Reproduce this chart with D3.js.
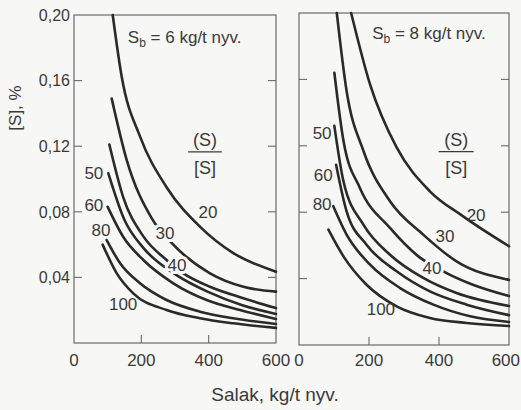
<!DOCTYPE html>
<html><head><meta charset="utf-8">
<script src="https://cdn.jsdelivr.net/npm/d3@7"></script>
<style>body{margin:0;background:#f7f7f5}svg{display:block}</style>
</head><body><svg id="c" width="521" height="410"></svg>
<script>
// ---- data ----
const xTicks = [0, 200, 400, 600];
const xTickLabels = ["0", "200", "400", "600"];
const yTicks = [0.04, 0.08, 0.12, 0.16, 0.20];
const yTickLabels = ["0,04", "0,08", "0,12", "0,16", "0,20"];
const ratios = [20, 30, 40, 50, 60, 80, 100];
const panelTitles = ["6", "8"];
const xTitle = "Salak, kg/t nyv.";
const yTitle = "[S], %";

// Sb = 6 kg/t : [salak, [S]]
const sb6_20  = [[115,0.200],[142,0.162],[196,0.126],[275,0.095],[374,0.071],[472,0.055],[600,0.0435]];
const sb6_30  = [[112,0.149],[156,0.112],[231,0.076],[290,0.061],[404,0.0425],[503,0.0343],[600,0.0313]];
const sb6_40  = [[105,0.121],[146,0.089],[206,0.065],[275,0.0506],[325,0.0425],[404,0.0343],[503,0.0273],[600,0.0213]];
const sb6_50  = [[102,0.1035],[150,0.075],[206,0.058],[300,0.042],[400,0.031],[500,0.023],[600,0.0177]];
const sb6_60  = [[100,0.083],[146,0.0648],[206,0.0506],[295,0.0364],[394,0.0262],[493,0.0201],[600,0.0146]];
const sb6_80  = [[97,0.0628],[137,0.0486],[196,0.0364],[275,0.0262],[374,0.0191],[473,0.0151],[600,0.0116]];
const sb6_100 = [[85,0.060],[127,0.0425],[176,0.0303],[275,0.0201],[374,0.0151],[473,0.012],[600,0.0092]];

// Sb = 8 kg/t
const sb8_20  = [[149,0.200],[203,0.157],[279,0.119],[374,0.0926],[469,0.0775],[600,0.0595]];
const sb8_30  = [[108,0.200],[136,0.153],[184,0.117],[260,0.0866],[355,0.0665],[450,0.0504],[600,0.0392]];
const sb8_40  = [[101,0.164],[127,0.123],[174,0.0946],[260,0.0705],[341,0.0534],[412,0.0444],[497,0.0363],[600,0.0295]];
const sb8_50  = [[101,0.132],[127,0.0986],[184,0.0725],[260,0.0544],[355,0.0404],[450,0.0313],[600,0.0235]];
const sb8_60  = [[106,0.1086],[136,0.0805],[193,0.0604],[279,0.0444],[374,0.0323],[479,0.0243],[600,0.018]];
const sb8_80  = [[98,0.0836],[136,0.0665],[203,0.0484],[289,0.0343],[384,0.0243],[489,0.0173],[600,0.0139]];
const sb8_100 = [[84,0.0695],[127,0.0534],[193,0.0363],[279,0.0233],[374,0.0163],[479,0.0133],[600,0.0114]];

const sb6 = [sb6_20, sb6_30, sb6_40, sb6_50, sb6_60, sb6_80, sb6_100];
const sb8 = [sb8_20, sb8_30, sb8_40, sb8_50, sb8_60, sb8_80, sb8_100];

// ---- layout ----
const panels = [
  { curves: sb6, title: panelTitles[0], xr: [74, 276], yr: [343, 15], yLabels: true,
    lab: [[398,0.0799,false],[270,0.0671,true],[306,0.0476,true],[59,0.1037,false],[59,0.0841,false],[80,0.0689,false],[146,0.0238,false]],
    frac: 389, titleAt: [160, 0.183] },
  { curves: sb8, title: panelTitles[1], xr: [299, 509], yr: [345, 13], yLabels: false,
    lab: [[506,0.0783,false],[417,0.0657,false],[380,0.0464,true],[66,0.1277,false],[69,0.1024,false],[66,0.0849,false],[234,0.0217,false]],
    frac: 449, titleAt: [209, 0.1843] }
];

const W = 521;
const svg = d3.select("#c");
const bg = "#f7f7f5";
const ink = "#2a2a2a";
const txt = "#3a3a3a";
const font = "'Liberation Sans', Arial, sans-serif";

panels.forEach(p => {
  const x = d3.scaleLinear().domain([0, 600]).range(p.xr);
  const y = d3.scaleLinear().domain([0, 0.20]).range(p.yr);
  const g = svg.append("g");

  // frame
  g.append("rect").attr("x", p.xr[0]).attr("y", p.yr[1])
    .attr("width", p.xr[1] - p.xr[0]).attr("height", p.yr[0] - p.yr[1])
    .attr("fill", "none").attr("stroke", "#6a6a6a").attr("stroke-width", 1.2);

  // ticks inward
  const tk = 8;
  yTicks.slice(0, 4).forEach(t => {
    g.append("line").attr("x1", x(0)).attr("x2", x(0) + tk).attr("y1", y(t)).attr("y2", y(t))
      .attr("stroke", "#6a6a6a").attr("stroke-width", 1.1);
    g.append("line").attr("x1", x(600)).attr("x2", x(600) - tk).attr("y1", y(t)).attr("y2", y(t))
      .attr("stroke", "#6a6a6a").attr("stroke-width", 1.1);
  });
  xTicks.slice(1, 3).forEach(t => {
    g.append("line").attr("x1", x(t)).attr("x2", x(t)).attr("y1", y(0)).attr("y2", y(0) - tk)
      .attr("stroke", "#6a6a6a").attr("stroke-width", 1.1);
  });

  // tick labels
  xTicks.forEach((t, i) => {
    const el = g.append("text").attr("y", 366).attr("text-anchor", "middle")
      .attr("font-family", font).attr("font-size", 17).attr("fill", txt).text(xTickLabels[i]);
    const w = el.node().getComputedTextLength();
    el.attr("x", Math.min(x(t), W - 1 - w / 2));
  });
  if (p.yLabels) {
    yTicks.forEach((t, i) => {
      g.append("text").attr("x", x(0) - 4).attr("y", y(t)).attr("dy", "0.36em").attr("text-anchor", "end")
        .attr("font-family", font).attr("font-size", 16).attr("fill", txt).text(yTickLabels[i]);
    });
  }

  // curves
  const line = d3.line().x(d => x(d[0])).y(d => y(d[1])).curve(d3.curveMonotoneX);
  p.curves.forEach(c => {
    g.append("path").attr("d", line(c)).attr("fill", "none")
      .attr("stroke", ink).attr("stroke-width", 2.6).attr("stroke-linecap", "round");
  });

  // ratio labels
  ratios.forEach((r, i) => {
    const [lv, ls, halo] = p.lab[i];
    const t = g.append("text").attr("x", x(lv)).attr("y", y(ls)).attr("dy", "0.36em")
      .attr("text-anchor", "middle").attr("font-family", font).attr("font-size", 17)
      .attr("fill", txt).text(r);
    if (halo) t.attr("stroke", bg).attr("stroke-width", 6).attr("paint-order", "stroke");
  });

  // fraction (S)/[S]
  g.append("text").attr("x", x(p.frac)).attr("y", y(0.1238)).attr("dy", "0.36em").attr("text-anchor", "middle")
    .attr("font-family", font).attr("font-size", 18).attr("fill", txt).text("(S)");
  g.append("line").attr("x1", x(p.frac - 50)).attr("x2", x(p.frac + 50)).attr("y1", y(0.1165)).attr("y2", y(0.1165))
    .attr("stroke", txt).attr("stroke-width", 1.3);
  g.append("text").attr("x", x(p.frac)).attr("y", y(0.1067)).attr("dy", "0.36em").attr("text-anchor", "middle")
    .attr("font-family", font).attr("font-size", 18).attr("fill", txt).text("[S]");

  // panel title Sb = ...
  const tt = g.append("text").attr("x", x(p.titleAt[0])).attr("y", y(p.titleAt[1]))
    .attr("font-family", font).attr("font-size", 17).attr("fill", txt);
  tt.append("tspan").text("S");
  tt.append("tspan").attr("font-size", 12).attr("dy", 4).text("b");
  tt.append("tspan").attr("dy", -4).text(" = " + p.title + " kg/t nyv.");
});

svg.append("text").attr("x", 275).attr("y", 401).attr("text-anchor", "middle")
  .attr("font-family", font).attr("font-size", 19).attr("fill", txt).text(xTitle);
svg.append("text").attr("transform", "translate(21,108) rotate(-90)").attr("text-anchor", "middle")
  .attr("font-family", font).attr("font-size", 17).attr("fill", txt).text(yTitle);
</script></body></html>
